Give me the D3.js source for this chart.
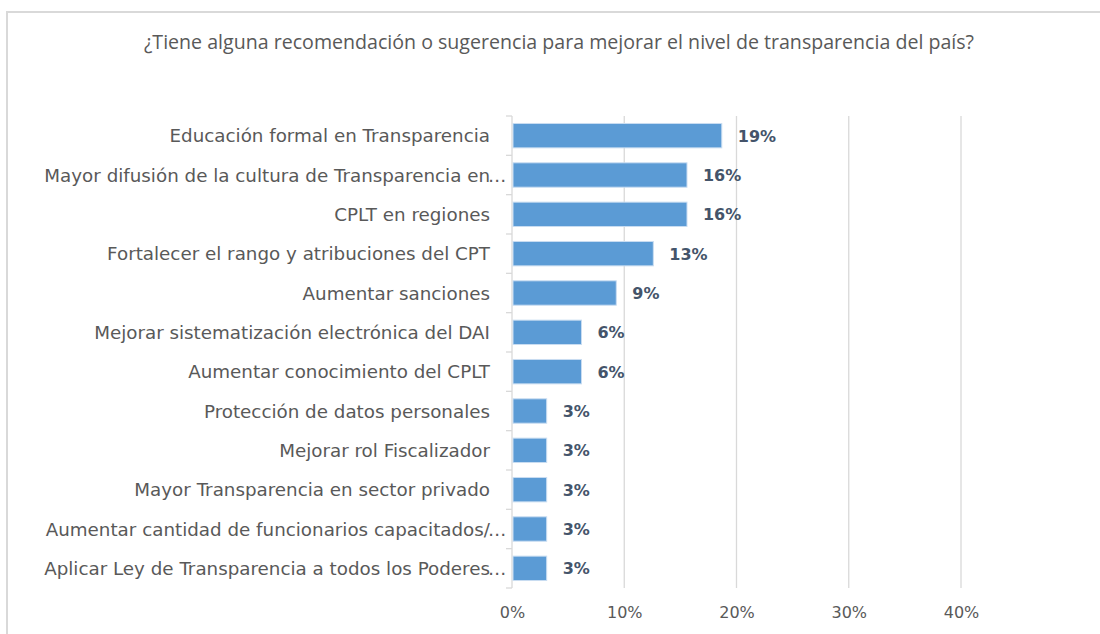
<!DOCTYPE html>
<html>
<head>
<meta charset="utf-8">
<script src="https://cdn.jsdelivr.net/npm/d3@7"></script>
<style>
  body { margin: 0; background: #fff; }
</style>
</head>
<body>
<script>
// Size of the page
const w = 1100;
const h = 634;

// Chart data
const title = "¿Tiene alguna recomendación o sugerencia para mejorar el nivel de transparencia del país?";
const categories = [
    "Educación formal en Transparencia",
    "Mayor difusión de la cultura de Transparencia en…",
    "CPLT en regiones",
    "Fortalecer el rango y atribuciones del CPT",
    "Aumentar sanciones",
    "Mejorar sistematización electrónica del DAI",
    "Aumentar conocimiento del CPLT",
    "Protección de datos personales",
    "Mejorar rol Fiscalizador",
    "Mayor Transparencia en sector privado",
    "Aumentar cantidad de funcionarios capacitados/…",
    "Aplicar Ley de Transparencia a todos los Poderes…"
];
const values = [18.6, 15.5, 15.5, 12.5, 9.2, 6.1, 6.1, 3.0, 3.0, 3.0, 3.0, 3.0];
const xTicks = [0, 10, 20, 30, 40];

// Create SVG
const svg = d3.select("body")
                .append("svg")
                .attr("width", w)
                .attr("height", h);

// chart border (runs off the right and bottom of the picture)
svg.append("rect")
    .attr("x", 7)
    .attr("y", 12)
    .attr("width", 1200)
    .attr("height", 700)
    .attr("fill", "none")
    .attr("stroke", "#d9d9d9")
    .attr("stroke-width", 2);

// Title
svg.append("text")
    .attr("x", 559)
    .attr("y", 49)
    .attr("text-anchor", "middle")
    .style("font-family", "'Open Sans', sans-serif")
    .style("font-size", "19.6px")
    .style("fill", "#595959")
    .text(title);

// Scales
const x = d3.scaleLinear()
            .domain([0, 40])
            .range([512, 961]);

const y = d3.scaleBand()
            .domain(categories)
            .range([116, 588])
            .paddingInner(0.38)
            .paddingOuter(0.19);

// gridlines
svg.append("g")
    .selectAll("line")
    .data(xTicks.slice(1))
    .enter()
    .append("line")
    .attr("x1", d => x(d))
    .attr("x2", d => x(d))
    .attr("y1", 116)
    .attr("y2", 588)
    .attr("stroke", "#d9d9d9")
    .attr("stroke-width", 1.3);

// x axis labels
const xAxis = d3.axisBottom(x)
                .tickValues(xTicks)
                .tickFormat(d => d + "%")
                .tickSize(0)
                .tickPadding(19);

const gx = svg.append("g")
    .attr("transform", "translate(0,588)")
    .call(xAxis);
gx.select(".domain").remove();
gx.selectAll("text")
    .style("font-family", "'DejaVu Sans', sans-serif")
    .style("font-size", "16px")
    .style("fill", "#595959");

// category axis: line plus tick marks between categories
svg.append("line")
    .attr("x1", 512).attr("x2", 512)
    .attr("y1", 116).attr("y2", 588)
    .attr("stroke", "#d9d9d9")
    .attr("stroke-width", 1.3);

const step = y.step();
svg.append("g")
    .selectAll("line")
    .data(d3.range(categories.length + 1))
    .enter()
    .append("line")
    .attr("x1", 506).attr("x2", 512)
    .attr("y1", i => 116 + i * step)
    .attr("y2", i => 116 + i * step)
    .attr("stroke", "#d9d9d9")
    .attr("stroke-width", 1.3);

// category labels - the ellipsis of cut labels hangs past the right edge
const catLabels = svg.append("g")
    .selectAll("g")
    .data(categories)
    .enter()
    .append("g")
    .attr("transform", d => "translate(490," + (y(d) + y.bandwidth() / 2) + ")")
    .style("font-family", "'DejaVu Sans', sans-serif")
    .style("font-size", "18.3px")
    .style("fill", "#595959");

catLabels.append("text")
    .attr("dy", "0.36em")
    .attr("text-anchor", "end")
    .text(d => d.replace("…", ""));

catLabels.filter(d => d.endsWith("…"))
    .append("text")
    .attr("dy", "0.36em")
    .attr("x", -2)
    .text("…");

// bars
svg.append("g")
    .selectAll("rect")
    .data(values)
    .enter()
    .append("rect")
    .attr("x", x(0) + 1)
    .attr("y", (d, i) => y(categories[i]))
    .attr("width", d => x(d) - x(0))
    .attr("height", y.bandwidth())
    .attr("fill", "#5b9bd5")
    .attr("stroke", "#c9ddf1")
    .attr("stroke-width", 1);

// value labels
svg.append("g")
    .selectAll("text")
    .data(values)
    .enter()
    .append("text")
    .attr("x", d => x(d) + 17)
    .attr("y", (d, i) => y(categories[i]) + y.bandwidth() / 2)
    .attr("dy", "0.38em")
    .style("font-family", "'DejaVu Sans', sans-serif")
    .style("font-weight", "bold")
    .style("font-size", "16px")
    .style("fill", "#44546a")
    .text(d => Math.round(d) + "%");
</script>
</body>
</html>
